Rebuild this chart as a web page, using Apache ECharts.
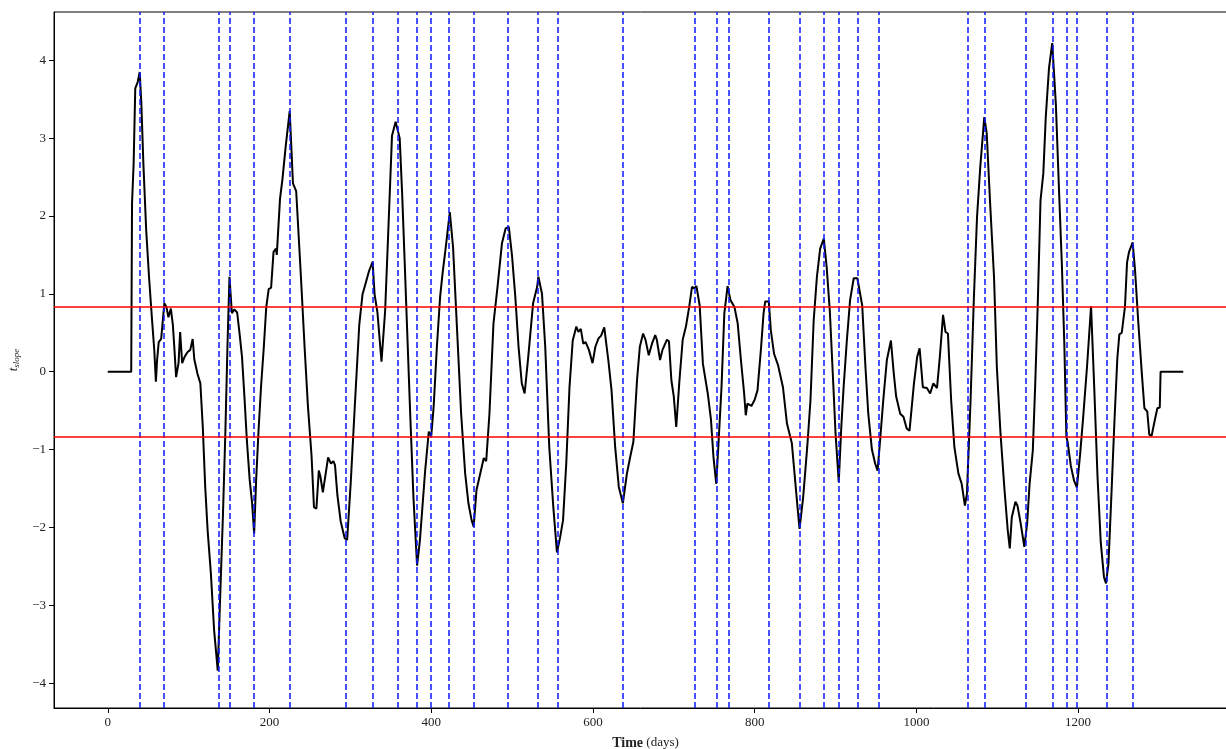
<!DOCTYPE html>
<html>
<head>
<meta charset="utf-8">
<script src="https://cdn.jsdelivr.net/npm/echarts@6/dist/echarts.min.js"></script>
<style>
  html, body { margin: 0; padding: 0; background: #fff; }
  #chart { width: 1226px; height: 749px; }
</style>
</head>
<body>
<div id="chart"></div>
<script>
// t_slope over time
const days = [
  0, 29, 30, 32, 34, 37, 39.5, 41.5, 44, 47.5, 51, 54.5, 57.5, 59.5, 61, 63, 66, 70, 72.5, 75, 78, 80.5, 82.5, 84.5, 87.5, 89.5, 92, 95, 98.5, 102, 105, 107, 111,
  114.5, 117.5, 120.5, 123.5, 127.5, 131.5, 136, 139, 142.5, 145.5, 148, 150.5, 153.5, 156.5, 160, 163, 166, 169, 172, 175.5, 178.5, 181, 183.5, 186.5, 189.5, 193, 196, 199,
  202, 205, 208, 209, 213, 216, 220, 225, 229, 233, 238.5, 243.5, 247.5, 252, 255, 258, 261, 263, 266, 272.5, 276, 279, 281, 284, 288, 293, 296, 300.5, 305.5,
  311, 315, 319, 323, 327.5, 330, 333.5, 338.5, 343, 347, 351.5, 356, 361, 364, 367, 374, 378, 382.5, 386, 392.5, 397, 400, 403, 407, 411, 414, 418, 423, 427,
  432, 437, 442, 446, 450, 452.5, 456, 461.5, 465, 468, 472, 477, 482, 487.5, 492, 496, 500, 504, 508, 512, 515.5, 520, 526, 531, 532.5, 537, 541, 546, 551,
  555.5, 559, 563, 567, 571, 575, 579.5, 582, 585, 588, 591, 595, 599.5, 603, 607, 610, 614, 619, 623, 627.5, 632, 637, 642, 646, 650, 654.5, 658, 662, 665,
  669, 673, 677, 679, 683, 686, 691.5, 694, 697, 700, 703, 707, 711, 715, 719, 722.5, 725, 728, 732, 736, 742, 746, 749, 752.5, 755.5, 759, 762.5, 766.5, 770,
  775, 779, 783, 787, 789, 791, 796, 800, 803.5, 808, 811, 813, 817.5, 820, 824, 829, 835, 840, 846, 850, 853, 855.5, 860, 865, 869, 873, 877, 881, 885.5,
  889, 893, 897, 900, 904, 907, 910, 914, 918, 922.5, 927, 933, 937, 940.5, 945, 949, 952, 955, 959, 963.5, 968.5, 972, 975, 980, 984, 988, 991.5, 997, 1001,
  1004, 1008, 1013, 1017, 1021, 1025.5, 1029, 1033, 1036, 1039, 1043, 1047, 1052, 1056, 1060, 1062.5, 1067, 1071, 1075, 1079, 1084, 1087, 1091, 1096, 1099.5,
  1104, 1109, 1113, 1115.5, 1118, 1122.5, 1125, 1129, 1133.5, 1137, 1140, 1144, 1147, 1150, 1153.5, 1157, 1160, 1164, 1168, 1172.5, 1176.5, 1180, 1183, 1185.5,
  1187, 1191, 1195, 1198.5, 1202.5, 1206, 1211, 1216, 1220, 1224, 1228, 1232, 1234.5, 1237.5, 1241, 1245, 1248.5, 1251, 1254, 1258, 1260.5, 1263, 1267.5,
  1270.5, 1274.5, 1279, 1282, 1285.5, 1288, 1291, 1294.5, 1298, 1301, 1302, 1330
];
const tSlope = [
  0, 0, 2.16, 2.68, 3.64, 3.72, 3.85, 3.45, 2.68, 1.82, 1.22, 0.7, 0.28, -0.13, 0.15, 0.38, 0.42, 0.88, 0.83, 0.7, 0.81, 0.6, 0.28, -0.07, 0.11, 0.51, 0.11, 0.19, 0.25, 0.28, 0.42, 0.16, -0.03,
  -0.15, -0.71, -1.48, -2.04, -2.59, -3.32, -3.84, -2.89, -1.82, -0.75, 0.32, 1.22, 0.75, 0.8, 0.76, 0.49, 0.19, -0.32, -0.88, -1.39, -1.69, -2.08, -1.39, -0.75, -0.2, 0.32, 0.83, 1.06,
  1.08, 1.54, 1.58, 1.5, 2.22, 2.47, 2.89, 3.35, 2.42, 2.32, 1.29, 0.3, -0.44, -1.08, -1.74, -1.76, -1.27, -1.35, -1.55, -1.1, -1.18, -1.15, -1.2, -1.59, -1.92, -2.14, -2.16, -1.42, -0.44,
  0.6, 0.99, 1.14, 1.29, 1.41, 0.99, 0.76, 0.13, 0.78, 1.83, 3.03, 3.21, 3.0, 2.3, 1.46, -0.54, -1.61, -2.49, -2.17, -1.27, -0.77, -0.83, -0.45, 0.32, 0.96, 1.26, 1.6, 2.05, 1.6,
  0.53, -0.54, -1.31, -1.69, -1.91, -1.99, -1.52, -1.27, -1.11, -1.15, -0.54, 0.62, 1.09, 1.65, 1.84, 1.86, 1.48, 0.96, 0.32, -0.15, -0.28, 0.19, 0.88, 1.09, 1.22, 1.0, 0.32, -0.97, -1.74,
  -2.32, -2.15, -1.91, -1.18, -0.2, 0.4, 0.58, 0.51, 0.55, 0.36, 0.38, 0.28, 0.11, 0.32, 0.43, 0.46, 0.57, 0.15, -0.24, -0.97, -1.48, -1.69, -1.31, -1.1, -0.9, -0.11, 0.32, 0.49, 0.41,
  0.21, 0.36, 0.47, 0.41, 0.15, 0.28, 0.41, 0.39, -0.11, -0.32, -0.71, -0.11, 0.41, 0.58, 0.83, 1.09, 1.07, 1.1, 0.85, 0.1, -0.28, -0.62, -1.09, -1.44, -0.88, -0.2, 0.75, 1.1, 0.92,
  0.83, 0.62, 0.15, -0.28, -0.56, -0.41, -0.44, -0.36, -0.24, 0.32, 0.75, 0.9, 0.9, 0.53, 0.23, 0.08, -0.2, -0.67, -0.92, -1.39, -1.74, -2.02, -1.61, -0.97, -0.37, 0.66, 1.22, 1.58, 1.71,
  1.35, 0.77, -0.11, -0.79, -1.42, -0.74, -0.2, 0.4, 0.92, 1.2, 1.2, 0.85, 0.06, -0.54, -1.0, -1.18, -1.27, -0.9, -0.37, 0.15, 0.4, -0.02, -0.32, -0.54, -0.58, -0.73, -0.76, -0.15, 0.19,
  0.3, -0.2, -0.21, -0.28, -0.15, -0.21, 0.19, 0.73, 0.51, 0.49, -0.37, -0.97, -1.31, -1.44, -1.72, -1.57, -0.37, 0.92, 1.99, 2.63, 3.27, 3.06, 2.2, 1.22, 0.06,
  -0.79, -1.52, -2.04, -2.27, -1.87, -1.67, -1.72, -1.95, -2.25, -1.95, -1.44, -1.01, -0.15, 0.83, 2.2, 2.55, 3.27, 3.9, 4.22, 3.43, 2.3, 1.35, 0.34, -0.84,
  -0.9, -1.21, -1.4, -1.49, -1.06, -0.62, 0.06, 0.84, -0.22, -1.35, -2.19, -2.64, -2.72, -2.47, -1.63, -0.62, 0.17, 0.48, 0.5, 0.84, 1.4, 1.54, 1.66,
  1.29, 0.62, -0.05, -0.47, -0.51, -0.81, -0.82, -0.64, -0.47, -0.46, 0, 0
];
// detected change points (blue dashed)
const breakDays = [40, 69, 137, 151, 181, 225, 294, 328, 358, 382, 400, 422, 452, 495, 532, 556, 637, 726, 753, 768,
  818, 856, 885, 904, 927, 953, 1063, 1085, 1135, 1169, 1186, 1198, 1235, 1268];
// significance thresholds (red)
const thresholds = [0.84, -0.84];
const xTicks = [0, 200, 400, 600, 800, 1000, 1200];
const yTicks = [-4, -3, -2, -1, 0, 1, 2, 3, 4];

const chart = echarts.init(document.getElementById('chart'));
const fontFam = '"Liberation Serif", "DejaVu Serif", serif';
const minus = v => (v < 0 ? '\u2212' + Math.abs(v) : String(v));

chart.setOption({
  animation: false,
  backgroundColor: '#fff',
  grid: {
    left: 54, top: 12, width: 1183, height: 696,
    outerBoundsMode: 'none', containLabel: false,
    show: true, borderColor: '#000', borderWidth: 1
  },
  xAxis: {
    type: 'value', min: -66.5, max: 1396.5,
    splitLine: { show: false },
    axisLine: { show: true, onZero: false, lineStyle: { color: '#000', width: 1 } },
    axisTick: { show: true, inside: false, length: 5, customValues: xTicks, lineStyle: { color: '#000' } },
    axisLabel: { customValues: xTicks, color: '#222', fontSize: 13, fontFamily: fontFam, margin: 8, formatter: v => String(v) },
    name: '{b|Time} {n|(days)}',
    nameLocation: 'middle', nameGap: 28,
    nameTextStyle: {
      rich: {
        b: { fontWeight: 'bold', fontSize: 14, fontFamily: fontFam, color: '#222' },
        n: { fontSize: 13, fontFamily: fontFam, color: '#222' }
      }
    }
  },
  yAxis: {
    type: 'value', min: -4.32, max: 4.62,
    splitLine: { show: false },
    axisLine: { show: true, onZero: false, lineStyle: { color: '#000', width: 1 } },
    axisTick: { show: true, inside: false, length: 5, customValues: yTicks, lineStyle: { color: '#000' } },
    axisLabel: { customValues: yTicks, color: '#222', fontSize: 13, fontFamily: fontFam, margin: 8, formatter: minus },
    name: '{t|t}{s|slope}',
    nameLocation: 'middle', nameGap: 28, nameRotate: 90,
    nameTextStyle: {
      rich: {
        t: { fontStyle: 'italic', fontSize: 13, fontFamily: fontFam, color: '#222' },
        s: { fontStyle: 'italic', fontSize: 9, fontFamily: fontFam, color: '#222', verticalAlign: 'bottom', padding: [6, 0, 0, 0] }
      }
    }
  },
  series: [
    {
      type: 'line',
      data: days.map((d, i) => [d, tSlope[i]]),
      showSymbol: false,
      lineStyle: { color: '#000', width: 2 },
      z: 2
    },
    {
      type: 'line',
      data: [],
      z: 5,
      markLine: {
        silent: true,
        symbol: ['none', 'none'],
        label: { show: false },
        animation: false,
        data: breakDays.map(d => ({ xAxis: d, lineStyle: { color: '#0a1aff', width: 1.5, type: [6, 3] } }))
          .concat(thresholds.map(v => ({ yAxis: v, lineStyle: { color: '#ff0000', width: 1.5, type: 'solid' } })))
      }
    }
  ]
});
</script>
</body>
</html>
